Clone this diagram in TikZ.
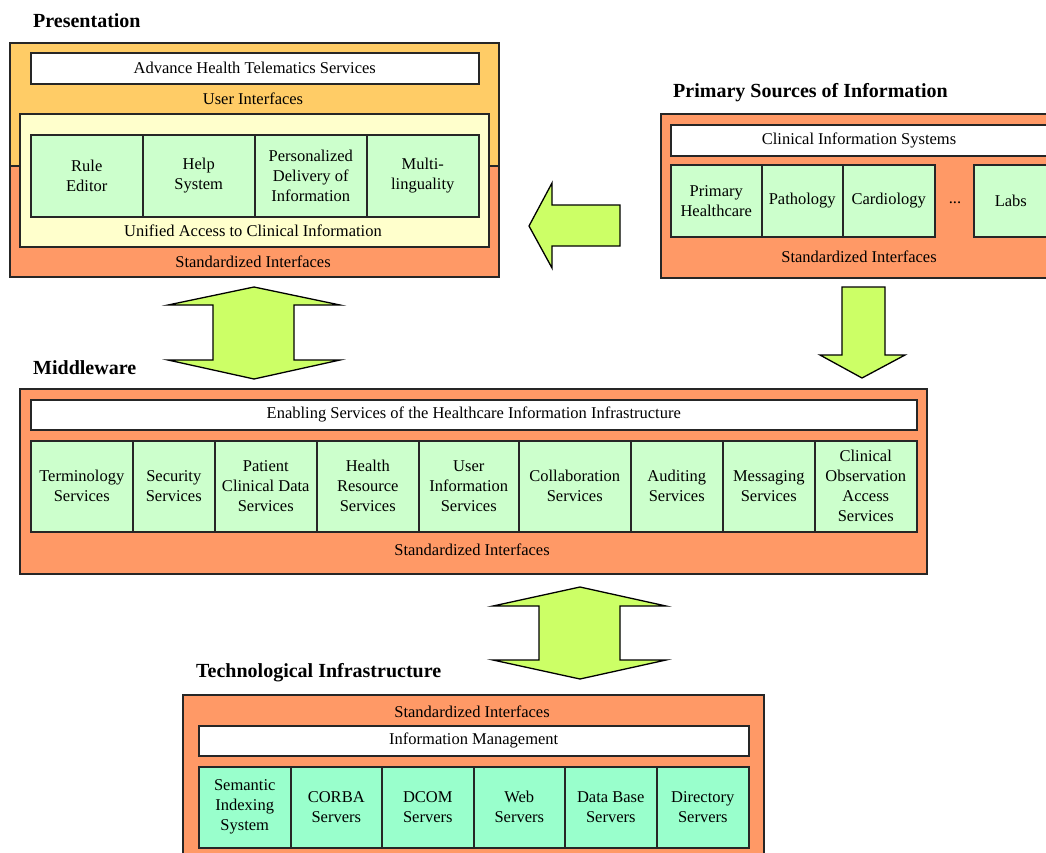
\documentclass[tikz,border=0pt]{standalone}
\usepackage{fontspec}
\setmainfont{Liberation Serif}
\definecolor{orng}{HTML}{FF9966}
\definecolor{lorng}{HTML}{FFCC66}
\definecolor{lyel}{HTML}{FFFFCC}
\definecolor{lgrn}{HTML}{CCFFCC}
\definecolor{tgrn}{HTML}{99FFCC}
\definecolor{arrg}{HTML}{CCFF66}
\tikzset{
  every node/.style={font=\fontsize{16.5}{20}\selectfont, inner sep=0pt},
  frame/.style={draw=black!85, line width=1.5pt, rectangle, anchor=north west},
  cell/.style={frame, fill=lgrn, align=center},
  tcell/.style={frame, fill=tgrn, align=center},
  wbox/.style={frame, fill=white},
  ttl/.style={font=\fontsize{20}{24}\selectfont\bfseries, anchor=west},
  blockarrow/.style={draw=black, line width=1.3pt, fill=arrg, line join=miter},
}
\begin{document}
\begin{tikzpicture}[x=1pt,y=-1pt]
\useasboundingbox (0,0) rectangle (1046,852);
\clip (0,0) rectangle (1046,852);

% ---------- Presentation ----------
\node[ttl] (tpres) at (33,21) {Presentation};
\node[frame, fill=orng, minimum width=489pt, minimum height=111pt] (preslow) at (9,165) {};
\node[frame, fill=lorng, minimum width=489pt, minimum height=123pt] (presup) at (9,42) {};
\node[wbox, minimum width=448pt, minimum height=31pt] (aht) at (30,52) {Advance Health Telematics Services};
\node (ui) at (253,99) {User Interfaces};
\node[frame, fill=lyel, minimum width=469pt, minimum height=133pt] (uac) at (19,113) {};
\node[cell, minimum width=112pt, minimum height=82pt] (re) at (30,134) {Rule\\Editor};
\node[cell, minimum width=112pt, minimum height=82pt] (hs) at (142,134) {Help\\System};
\node[cell, minimum width=112pt, minimum height=82pt] (pd) at (254,134) {Personalized\\Delivery of\\Information};
\node[cell, minimum width=112pt, minimum height=82pt] (ml) at (366,134) {Multi-\\linguality};
\node (uacl) at (253,231) {Unified Access to Clinical Information};
\node (psi) at (253,262) {Standardized Interfaces};

% ---------- Primary Sources ----------
\node[ttl] (tprim) at (673,93) {Primary Sources of Information};
\node[frame, fill=orng, minimum width=420pt, minimum height=164pt] (prim) at (660,113) {};
\node[wbox, minimum width=400pt, minimum height=31pt] (cis) at (670,124) {};
\node (cisl) at (859,140) {Clinical Information Systems};
\node[cell, minimum width=91pt, minimum height=72pt] (ph) at (670,164) {Primary\\Healthcare};
\node[cell, minimum width=81pt, minimum height=72pt] (pa) at (761,164) {Pathology};
\node[cell, minimum width=92pt, minimum height=72pt] (ca) at (842,164) {Cardiology};
\node (dots) at (955,203) {...};
\node[cell, minimum width=100pt, minimum height=72pt, text width=80pt, align=left] (lb) at (973,164) {\hspace*{11pt}Labs};
\node (psi2) at (859,257) {Standardized Interfaces};

% ---------- Middleware ----------
\node[ttl] (tmid) at (33,368) {Middleware};
\node[frame, fill=orng, minimum width=907pt, minimum height=185pt] (mid) at (19,388) {};
\node[wbox, minimum width=886pt, minimum height=30pt] (es) at (30,399) {Enabling Services of the Healthcare Information Infrastructure};
\node[cell, minimum width=102pt, minimum height=91pt] (m1) at (30,440) {Terminology\\Services};
\node[cell, minimum width=82pt, minimum height=91pt] (m2) at (132,440) {Security\\Services};
\node[cell, minimum width=102pt, minimum height=91pt] (m3) at (214,440) {Patient\\Clinical Data\\Services};
\node[cell, minimum width=102pt, minimum height=91pt] (m4) at (316,440) {Health\\Resource\\Services};
\node[cell, minimum width=100pt, minimum height=91pt] (m5) at (418,440) {User\\Information\\Services};
\node[cell, minimum width=112pt, minimum height=91pt] (m6) at (518,440) {Collaboration\\Services};
\node[cell, minimum width=92pt, minimum height=91pt] (m7) at (630,440) {Auditing\\Services};
\node[cell, minimum width=92pt, minimum height=91pt] (m8) at (722,440) {Messaging\\Services};
\node[cell, minimum width=102pt, minimum height=91pt] (m9) at (814,440) {Clinical\\Observation\\Access\\Services};
\node (msi) at (472,550) {Standardized Interfaces};

% ---------- Technological Infrastructure ----------
\node[ttl] (ttech) at (196,673) {Technological Infrastructure};
\node[frame, fill=orng, minimum width=581pt, minimum height=180pt] (tech) at (182,694) {};
\node (tsi) at (472,712) {Standardized Interfaces};
\node[wbox, minimum width=550pt, minimum height=30pt] (im) at (198,725) {Information Management};
\node[tcell, minimum width=92pt, minimum height=81pt] (t1) at (198,766) {Semantic\\Indexing\\System};
\node[tcell, minimum width=91pt, minimum height=81pt] (t2) at (290,766) {CORBA\\Servers};
\node[tcell, minimum width=92pt, minimum height=81pt] (t3) at (381,766) {DCOM\\Servers};
\node[tcell, minimum width=91pt, minimum height=81pt] (t4) at (473,766) {Web\\Servers};
\node[tcell, minimum width=92pt, minimum height=81pt] (t5) at (564,766) {Data Base\\Servers};
\node[tcell, minimum width=92pt, minimum height=81pt] (t6) at (656,766) {Directory\\Servers};

% ---------- Block arrows ----------
% left arrow (Primary Sources -> Presentation)
\draw[blockarrow] (529,226) -- (552,183) -- (552,205) -- (620,205) -- (620,246) -- (552,246) -- (552,268) -- cycle;
% down arrow (Primary Sources -> Middleware)
\draw[blockarrow] (842,287) -- (885,287) -- (885,355) -- (905,355) -- (862,378) -- (820,355) -- (842,355) -- cycle;
% double arrow Presentation <-> Middleware
\draw[blockarrow] (254,287) -- (340,305) -- (294,305) -- (294,360) -- (340,360) -- (254,379) -- (168,360) -- (213,360) -- (213,305) -- (168,305) -- cycle;
% double arrow Middleware <-> Technological Infrastructure
\draw[blockarrow] (580,587) -- (666,606) -- (620,606) -- (620,660) -- (666,660) -- (580,679) -- (493,660) -- (539,660) -- (539,606) -- (493,606) -- cycle;
\end{tikzpicture}
\end{document}
